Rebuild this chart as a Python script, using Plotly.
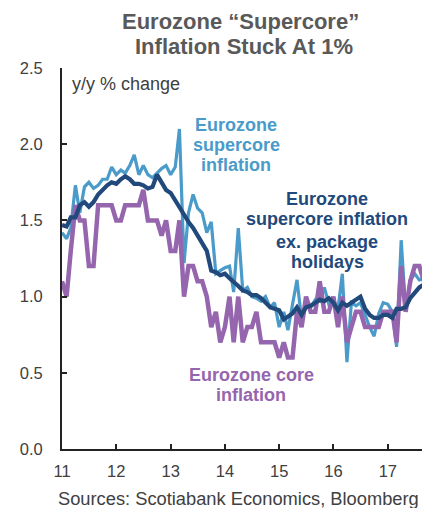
import pandas as pd
import plotly.graph_objects as go

# Monthly data, Jan 2011 - Sep 2017 (y/y % change)
supercore = [
    1.42, 1.38, 1.45, 1.73, 1.55, 1.72, 1.75, 1.71, 1.73, 1.77, 1.77, 1.85,
    1.80, 1.83, 1.81, 1.86, 1.93, 1.80, 1.86, 1.80, 1.78, 1.81, 1.84, 1.86,
    1.80, 1.85, 2.10, 1.22, 1.55, 1.67, 1.58, 1.55, 1.42, 1.49, 1.15, 1.17,
    1.19, 1.20, 1.03, 1.45, 1.04, 1.06, 1.00, 0.99, 0.97, 1.00, 0.93, 0.96,
    0.80, 0.90, 0.78, 0.95, 1.11, 0.85, 0.96, 0.93, 0.98, 0.97, 1.06, 0.95,
    0.98, 0.92, 1.15, 0.57, 0.96, 0.94, 0.96, 0.88, 0.80, 0.74, 0.89, 0.96,
    0.95, 0.90, 0.67, 1.37, 0.91, 1.11, 1.15, 1.11, 1.12,
]
core = [
    1.1, 1.0, 1.3, 1.6, 1.5, 1.5, 1.2, 1.2, 1.6, 1.6, 1.6, 1.6,
    1.5, 1.5, 1.6, 1.6, 1.6, 1.6, 1.7, 1.5, 1.5, 1.5, 1.4, 1.5,
    1.3, 1.3, 1.5, 1.0, 1.2, 1.2, 1.1, 1.1, 1.0, 0.8, 0.9, 0.7,
    0.8, 1.0, 0.7, 1.0, 0.7, 0.8, 0.8, 0.9, 0.7, 0.7, 0.7, 0.7,
    0.6, 0.7, 0.6, 0.6, 0.9, 0.8, 1.0, 0.9, 0.9, 1.1, 0.9, 0.9,
    1.0, 0.8, 1.0, 0.7, 0.8, 0.9, 0.9, 0.8, 0.8, 0.8, 0.8, 0.9,
    0.9, 0.9, 0.7, 1.2, 0.9, 1.1, 1.2, 1.2, 1.1,
]
supercore_ex_ph = [
    1.47, 1.46, 1.52, 1.52, 1.60, 1.62, 1.59, 1.62, 1.67, 1.70, 1.73, 1.75,
    1.74, 1.77, 1.79, 1.77, 1.74, 1.74, 1.73, 1.71, 1.72, 1.80, 1.75, 1.70,
    1.68, 1.63, 1.58, 1.53, 1.49, 1.45, 1.40, 1.35, 1.30, 1.17, 1.16, 1.14,
    1.15, 1.12, 1.10, 1.07, 1.04, 1.03, 1.01, 1.01, 0.99, 0.96, 0.93, 0.92,
    0.91, 0.85, 0.87, 0.89, 0.93, 0.88, 0.93, 0.94, 0.96, 0.98, 0.97, 0.99,
    0.96, 0.91, 0.96, 0.94, 0.96, 0.98, 1.00, 0.92, 0.88, 0.86, 0.86, 0.88,
    0.88, 0.86, 0.92, 0.92, 0.93, 0.99, 1.03, 1.06, 1.08,
]
dates = pd.date_range("2011-01-01", periods=len(core), freq="MS")

year_ticks = ["2011-01-01", "2012-01-01", "2013-01-01", "2014-01-01",
              "2015-01-01", "2016-01-01", "2017-01-01"]
year_labels = ["11", "12", "13", "14", "15", "16", "17"]

C_LIGHT = "#4a9bc9"
C_DARK = "#22497b"
C_PURPLE = "#9565ad"
FONT = "Liberation Sans, Arial, sans-serif"

fig = go.Figure()
fig.add_trace(go.Scatter(x=dates, y=supercore, mode="lines",
                         line=dict(color=C_LIGHT, width=3.2)))
fig.add_trace(go.Scatter(x=dates, y=core, mode="lines",
                         line=dict(color=C_PURPLE, width=4.5)))
fig.add_trace(go.Scatter(x=dates, y=supercore_ex_ph, mode="lines",
                         line=dict(color=C_DARK, width=4.2)))

# Plot-area edges in page pixels
L, R, T, B = 62, 422, 68, 449
W, H = 422, 508


def px(x):
    return (x - L) / (R - L)


def py(y):
    return (B - y) / (B - T)


def label(text, x, y, color, size, bold=True, anchor="center"):
    fig.add_annotation(
        text=f"<b>{text}</b>" if bold else text,
        x=px(x), y=py(y), xref="paper", yref="paper",
        xanchor=anchor, yanchor="middle", showarrow=False,
        font=dict(family=FONT, size=size, color=color),
    )


label("Eurozone \u201cSupercore\u201d", 240, 22, "#595959", 22)
label("Inflation Stuck At 1%", 244, 46, "#595959", 22)
label("y/y % change", 70, 84, "#404040", 18, bold=False, anchor="left")

for t, y in [("Eurozone", 125), ("supercore", 145), ("inflation", 165)]:
    label(t, 236, y, C_LIGHT, 18)
for t, y in [("Eurozone", 199), ("supercore inflation", 219),
             ("ex. package", 242), ("holidays", 262)]:
    label(t, 327, y, C_DARK, 18)
for t, y in [("Eurozone core", 375), ("inflation", 395)]:
    label(t, 251, y, C_PURPLE, 18)

label("Sources: Scotiabank Economics, Bloomberg", 56, 498, "#404040", 18.3,
      bold=False, anchor="left")

fig.update_layout(
    width=W, height=H,
    margin=dict(l=L, r=W - R, t=T, b=H - B),
    paper_bgcolor="white", plot_bgcolor="white",
    showlegend=False,
    font=dict(family=FONT, color="#404040"),
    xaxis=dict(
        range=["2011-01-01", "2017-08-19"],
        tickvals=year_ticks, ticktext=year_labels,
        ticks="inside", ticklen=5, tickwidth=1.5, tickcolor="#222",
        showline=True, linecolor="#222", linewidth=2,
        showgrid=False, zeroline=False,
        tickfont=dict(size=16.5, color="#404040"),
        ticklabelstandoff=6,
    ),
    yaxis=dict(
        range=[0, 2.5], dtick=0.5, tick0=0, tickformat=".1f",
        ticks="inside", ticklen=5, tickwidth=1.5, tickcolor="#222",
        showline=True, linecolor="#222", linewidth=2,
        showgrid=False, zeroline=False,
        tickfont=dict(size=16.5, color="#404040"),
        ticklabelstandoff=14,
    ),
)

fig.write_html(
    "out.html",
    config={"displayModeBar": False},
    post_script=(
        "document.documentElement.style.overflow='hidden';"
        "document.body.style.margin='0';"
        "document.body.style.overflow='hidden';"
    ),
)
